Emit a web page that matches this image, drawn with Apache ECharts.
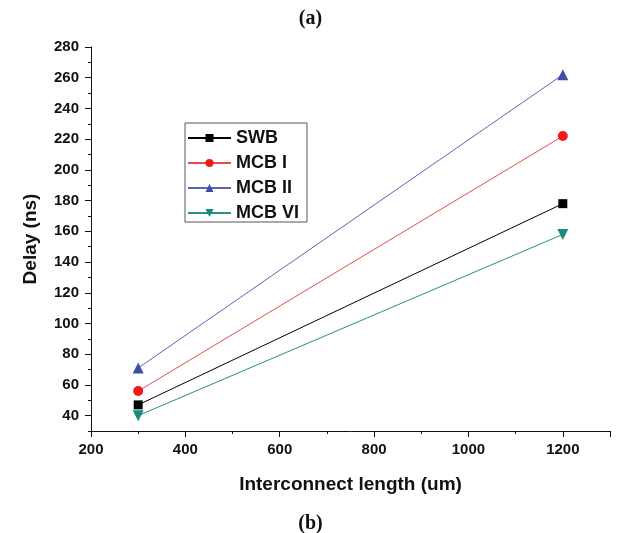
<!DOCTYPE html>
<html>
<head>
<meta charset="utf-8">
<title>Delay vs interconnect length</title>
<script src="https://cdn.jsdelivr.net/npm/echarts@6/dist/echarts.min.js"></script>
<style>
	* { margin: 0; padding: 0; }
	html, body { width: 100%; height: 100%; background: #fff; }
	#main { width: 621px; height: 533px; }
</style>
</head>
<body>
<div id="main"></div>
<script type="text/javascript">
	// data
	var lengths = [300, 1200];
	var swb = [47, 178];
	var mcb1 = [56, 222];
	var mcb2 = [71, 262];
	var mcb6 = [40, 158];
	var seriesNames = ['SWB', 'MCB I', 'MCB II', 'MCB VI'];
	// y tick labels (major ticks)
	var yMajor = [40, 60, 80, 100, 120, 140, 160, 180, 200, 220, 240, 260, 280];

	function pairs(ys) {
		var out = [];
		for (var i = 0; i < lengths.length; i++) out.push([lengths[i], ys[i]]);
		return out;
	}

	var FONT = '"Liberation Sans", Arial, sans-serif';
	var SERIF = '"Liberation Serif", "Times New Roman", serif';
	var myChart = echarts.init(document.getElementById('main'));

	var option = {
		animation: false,
		backgroundColor: '#fff',
		title: [
			{ text: '(a)', left: 'center', top: 9, padding: 0, textStyle: { fontFamily: SERIF, fontWeight: 'bold', fontSize: 20, color: '#111' } },
			{ text: '(b)', left: 'center', top: 514, padding: 0, textStyle: { fontFamily: SERIF, fontWeight: 'bold', fontSize: 20, color: '#111' } }
		],
		grid: { left: 91, right: 11, top: 47, bottom: 102 },
		legend: {
			orient: 'vertical',
			left: 185,
			top: 123,
			padding: [6, 8, 0, 2],
			itemGap: 7,
			itemWidth: 43,
			itemHeight: 10,
			borderColor: '#555',
			borderWidth: 1,
			data: seriesNames,
			textStyle: { fontFamily: FONT, fontWeight: 'bold', fontSize: 18, color: '#111' }
		},
		xAxis: {
			type: 'value',
			min: 200, max: 1300, interval: 200,
			name: 'Interconnect length (um)',
			nameLocation: 'middle',
			nameGap: 44,
			nameTextStyle: { fontFamily: FONT, fontWeight: 'bold', fontSize: 19, color: '#111' },
			axisLine: { lineStyle: { color: '#111', width: 1 } },
			axisTick: { inside: false, length: 6, lineStyle: { color: '#111' } },
			minorTick: { show: true, splitNumber: 2, length: 3, lineStyle: { color: '#111' } },
			splitLine: { show: false },
			axisLabel: { fontFamily: FONT, fontWeight: 'bold', fontSize: 15, color: '#111', margin: 11,
				formatter: function (v) { return v > 1200 ? '' : v; } }
		},
		yAxis: [
			{
				type: 'value',
				min: 30, max: 280, interval: 10,
				name: 'Delay (ns)',
				nameLocation: 'middle',
				nameGap: 51,
				nameTextStyle: { fontFamily: FONT, fontWeight: 'bold', fontSize: 19, color: '#111' },
				axisLine: { show: true, lineStyle: { color: '#111', width: 1 } },
				axisTick: { show: true, inside: false, length: 6, customValues: yMajor, lineStyle: { color: '#111' } },
				splitLine: { show: false },
				axisLabel: { fontFamily: FONT, fontWeight: 'bold', fontSize: 15, color: '#111', margin: 12,
					customValues: yMajor,
					formatter: function (v) { return (v % 20 === 0 && v >= 40) ? v : ''; } }
			},
			{
				// minor ticks every 10
				type: 'value',
				position: 'left',
				min: 30, max: 280, interval: 10,
				axisLine: { show: false },
				axisTick: { show: true, inside: false, length: 3, lineStyle: { color: '#111' } },
				axisLabel: { show: false },
				splitLine: { show: false }
			}
		],
		series: [
			{ name: 'SWB', type: 'line', data: pairs(swb), symbol: 'rect', symbolSize: 9,
				itemStyle: { color: '#000' }, lineStyle: { color: '#000', width: 1 } },
			{ name: 'MCB I', type: 'line', data: pairs(mcb1), symbol: 'circle', symbolSize: 10,
				itemStyle: { color: '#f01818' }, lineStyle: { color: '#e84a4a', width: 1 } },
			{ name: 'MCB II', type: 'line', data: pairs(mcb2), symbol: 'triangle', symbolSize: 11,
				itemStyle: { color: '#3c4fa6' }, lineStyle: { color: '#5a67b0', width: 1 } },
			{ name: 'MCB VI', type: 'line', data: pairs(mcb6), symbol: 'triangle', symbolRotate: 180, symbolSize: 11,
				itemStyle: { color: '#178a82' }, lineStyle: { color: '#2a8f88', width: 1 } }
		]
	};

	myChart.setOption(option);
</script>
</body>
</html>
